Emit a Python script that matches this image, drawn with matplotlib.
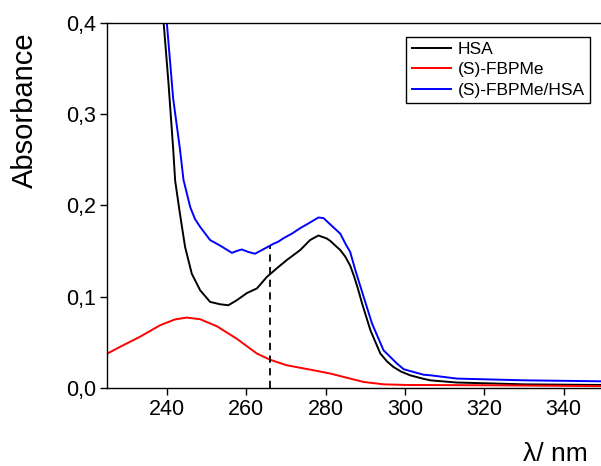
import matplotlib
matplotlib.use("Agg")
import matplotlib.pyplot as plt
from matplotlib.ticker import FuncFormatter, MultipleLocator

# HSA
hsa_nm = [238.0, 239.2, 240.4, 241.6, 242.1, 243.3, 244.6, 246.3, 248.4, 250.9,
          253.4, 255.5, 257.6, 260.2, 262.7, 265.2, 267.7, 270.2, 273.6, 276.1,
          278.2, 280.3, 281.2, 283.7, 285.0, 286.2, 287.2, 288.2, 289.2, 291.3,
          293.8, 295.5, 297.1, 299.0, 301.3, 304.7, 306.4, 313.0, 330.0, 350.0]
hsa_abs = [0.47, 0.40, 0.335, 0.262, 0.227, 0.191, 0.1545, 0.125, 0.107, 0.0943,
           0.0917, 0.0906, 0.096, 0.104, 0.109, 0.1216, 0.131, 0.140, 0.151, 0.162,
           0.167, 0.1637, 0.161, 0.151, 0.1436, 0.134, 0.122, 0.108, 0.0925, 0.0632,
           0.0377, 0.029, 0.023, 0.018, 0.0139, 0.010, 0.0084, 0.006, 0.004, 0.0033]

# (S)-FBPMe
fbp_nm = [225.0, 228.2, 233.2, 238.3, 242.0, 245.0, 248.4, 252.6, 257.6, 262.7,
          266.0, 270.2, 277.0, 281.2, 286.2, 289.6, 294.6, 300.5, 320.0, 350.0]
fbp_abs = [0.0377, 0.045, 0.056, 0.0687, 0.075, 0.0771, 0.0753, 0.0676, 0.054, 0.0377,
           0.031, 0.0249, 0.0194, 0.0158, 0.0103, 0.0066, 0.004, 0.0033, 0.003, 0.002]

# (S)-FBPMe/HSA
mix_nm = [238.5, 240.0, 241.6, 243.3, 244.2, 245.9, 247.1, 248.4, 250.9, 253.4,
          256.4, 257.6, 258.9, 260.5, 262.2, 264.8, 266.9, 268.0, 269.4, 271.5,
          273.6, 276.0, 278.2, 279.5, 281.2, 283.7, 285.0, 286.2, 287.5, 289.6,
          291.7, 294.6, 298.0, 299.7, 302.2, 304.7, 306.4, 313.1, 330.0, 350.0]
mix_abs = [0.47, 0.40, 0.317, 0.262, 0.228, 0.198, 0.185, 0.1764, 0.162, 0.156,
           0.148, 0.150, 0.1517, 0.149, 0.147, 0.153, 0.158, 0.160, 0.164, 0.169,
           0.175, 0.181, 0.1867, 0.186, 0.179, 0.169, 0.158, 0.149, 0.129, 0.0997,
           0.0706, 0.0413, 0.0267, 0.0205, 0.0175, 0.0145, 0.0139, 0.0103, 0.0084, 0.0073]

marker_nm = 266.0
marker_top = 0.156

plt.rcParams['font.family'] = ['Liberation Sans', 'DejaVu Sans']

fig = plt.figure(figsize=(6.01, 4.66), dpi=100)
ax = fig.add_axes([0.1785, 0.1674, 1.004 - 0.1785, 0.9513 - 0.1674])

ax.plot(hsa_nm, hsa_abs, color='black', lw=1.4, label='HSA')
ax.plot(fbp_nm, fbp_abs, color='#ff0000', lw=1.4, label='(S)-FBPMe')
ax.plot(mix_nm, mix_abs, color='#0000ff', lw=1.4, label='(S)-FBPMe/HSA')
ax.vlines(marker_nm, 0, marker_top, colors='black', linestyles=(0, (4, 3)), lw=1.3)

ax.set_xlim(225, 350)
ax.set_ylim(0, 0.4)
ax.xaxis.set_major_locator(MultipleLocator(20))
ax.yaxis.set_major_locator(MultipleLocator(0.1))
ax.yaxis.set_major_formatter(FuncFormatter(lambda v, p: f"{v:.1f}".replace('.', ',')))
ax.tick_params(direction='out', length=5, width=1, labelsize=15.5, pad=3)
for s in ['left', 'bottom', 'top']:
    ax.spines[s].set_linewidth(1)
ax.spines['right'].set_visible(False)

fig.text(0.042, 1 - 110 / 466, 'Absorbance', rotation=90, fontsize=21,
         ha='center', va='center')
fig.text(555 / 601, 1 - 461 / 466, 'λ/ nm', fontsize=19, ha='center', va='baseline')

leg = ax.legend(loc='upper right', bbox_to_anchor=(590 / 601, 1 - 36.7 / 466),
                bbox_transform=fig.transFigure, borderaxespad=0, fontsize=12.5,
                fancybox=False, framealpha=1, edgecolor='black', handlelength=2.25,
                handletextpad=0.4, labelspacing=0.3, borderpad=0.3)
leg.get_frame().set_linewidth(1)

fig.savefig('out.png', dpi=100)
